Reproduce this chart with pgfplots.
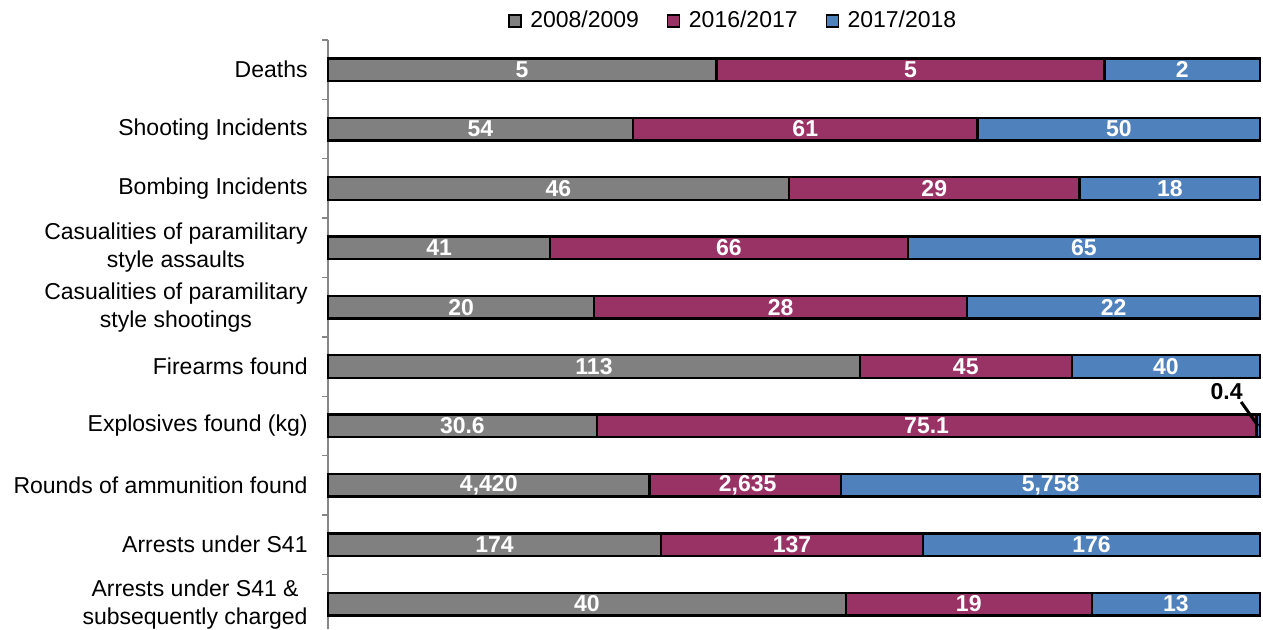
\documentclass[border=0pt]{standalone}
\usepackage{pgfplots}
\pgfplotsset{compat=1.18}
\usepackage{pgfplotstable}
\usepackage{fontspec}
\setmainfont{Liberation Sans}
\definecolor{cA}{HTML}{808080}
\definecolor{cB}{HTML}{993366}
\definecolor{cC}{HTML}{4F81BD}
\definecolor{axgray}{HTML}{868686}

% percentages of row total (p), segment midpoints (m), value labels (l)
\pgfplotstableread{
y p1 p2 p3 m1 m2 m3 l1 l2 l3
0 41.667 41.667 16.667 20.83 62.50 91.67 5 5 2
1 32.727 36.970 30.303 16.36 51.21 84.85 54 61 50
2 49.462 31.183 19.355 24.73 65.05 90.32 46 29 18
3 23.837 38.372 37.791 11.92 43.02 81.10 41 66 65
4 28.571 40.000 31.429 14.29 48.57 84.29 20 28 22
5 57.071 22.727 20.202 28.54 68.43 89.90 113 45 40
6 28.841 70.782 0.377 14.42 64.23 nan 30.6 75.1 0.4
7 34.496 20.565 44.939 17.25 45.03 77.53 {4,420} {2,635} {5,758}
8 35.729 28.131 36.140 17.86 49.79 81.93 174 137 176
9 55.556 26.389 18.056 27.78 68.75 90.97 40 19 13
}\data

\begin{document}
\begin{tikzpicture}
\useasboundingbox (-164pt,0pt) rectangle (467.5pt,314.5pt);
\begin{axis}[
  at={(0,0)}, anchor=south west,
  scale only axis, width=466pt, height=294.5pt,
  xbar stacked, bar width=11.3pt,
  xmin=0, xmax=100, ymin=-0.5, ymax=9.42, y dir=reverse,
  axis x line=none, axis y line=left,
  axis line style={-, draw=axgray, line width=0.7pt},
  ytick={0,...,9},
  yticklabels={Deaths, Shooting Incidents, Bombing Incidents,
    {Casualities of paramilitary\\style assaults},
    {Casualities of paramilitary\\style shootings},
    Firearms found, Explosives found (kg), Rounds of ammunition found,
    Arrests under S41, {Arrests under S41 \&\\subsequently charged}},
  major tick length=0pt,
  minor ytick={-0.5,0.5,...,8.5},
  minor tick length=3pt, tick align=outside,
  tick style={draw=axgray, line width=0.7pt},
  yticklabel style={align=center, font=\fontsize{11.5}{14}\selectfont, inner sep=0pt, xshift=-10pt},
  legend style={at={(0.436,1)}, anchor=center, yshift=9.5pt, draw=none,
    font=\fontsize{11.5}{13}\selectfont, inner sep=0pt,
    /tikz/every even column/.append style={column sep=12pt}},
  legend columns=3,
  legend image code/.code={\draw[#1, draw=black, line width=0.7pt] (0pt,-3pt) rectangle (6pt,3pt); \path (8pt,0pt);},
  clip=false,
]
\addplot[fill=cA, draw=black, line width=1.2pt] table[x=p1, y=y]{\data};
\addplot[fill=cB, draw=black, line width=1.2pt] table[x=p2, y=y]{\data};
\addplot[fill=cC, draw=black, line width=1.2pt] table[x=p3, y=y]{\data};
\legend{2008/2009, 2016/2017, 2017/2018}
\end{axis}
\begin{axis}[
  at={(0,0)}, anchor=south west,
  scale only axis, width=466pt, height=294.5pt,
  xmin=0, xmax=100, ymin=-0.5, ymax=9.42, y dir=reverse,
  hide axis, clip=false,
  nodes near coords, point meta=explicit symbolic,
  every node near coord/.append style={anchor=center, inner sep=0pt,
    font=\bfseries\fontsize{11.5}{14}\selectfont, text=white},
]
\addplot[draw=none, mark=none] table[x=m1, y=y, meta=l1]{\data};
\addplot[draw=none, mark=none] table[x=m2, y=y, meta=l2]{\data};
\addplot[draw=none, mark=none] table[x=m3, y=y, meta=l3]{\data};
\draw[line width=1.5pt] (axis cs:99.8,6) -- ++(-8.5pt,12pt)
  node[anchor=base east, inner sep=0pt, xshift=1.5pt, yshift=1pt, font=\bfseries\fontsize{11.5}{14}\selectfont]{0.4};
\end{axis}
\end{tikzpicture}
\end{document}
